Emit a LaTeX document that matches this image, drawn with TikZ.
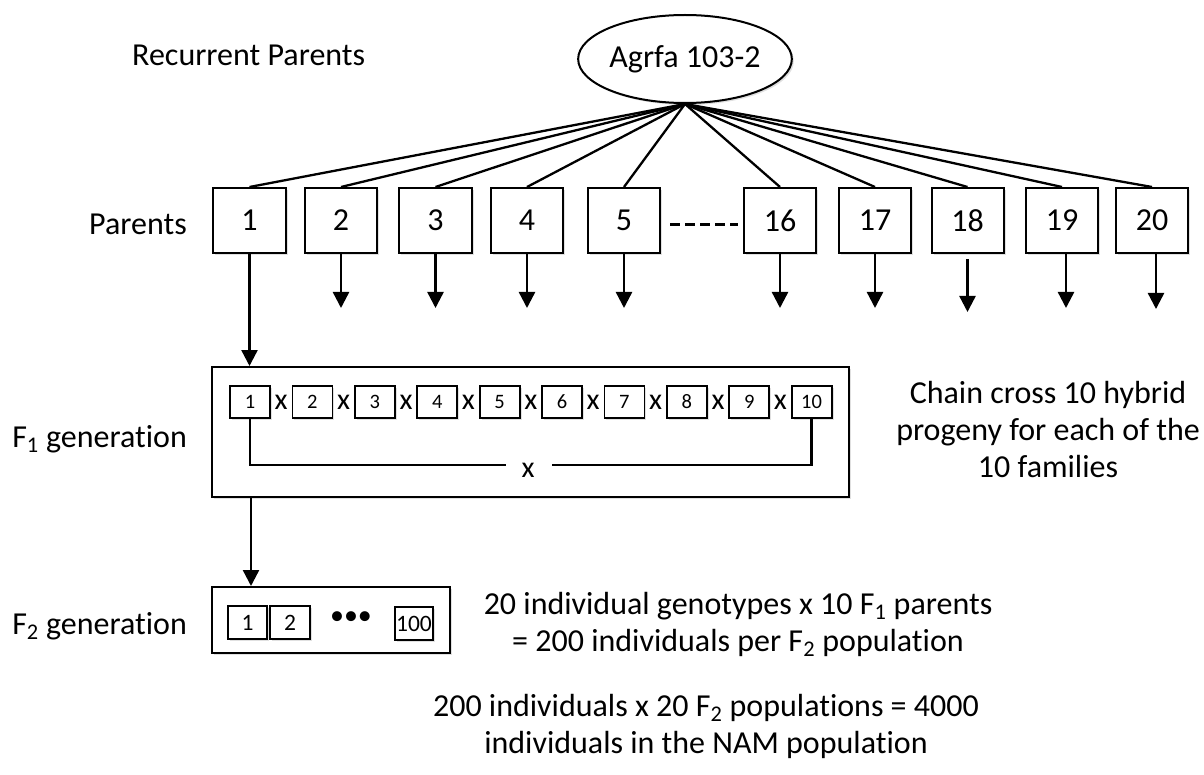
\documentclass[tikz,border=0pt]{standalone}
\usepackage{fontspec}
\setmainfont{Carlito}[Ligatures=NoCommon]
\usetikzlibrary{arrows.meta,shapes.geometric,shadows}
\begin{document}
\begin{tikzpicture}[x=1pt,y=-1pt,
  big/.style={font=\fontsize{32}{37}\selectfont},
  shad/.style={drop shadow={shadow xshift=2pt,shadow yshift=-2pt,opacity=0.12,fill=black}},
  pbox/.style={draw,line width=2pt,fill=white,minimum height=65pt,inner sep=0pt,big,shad},
  fbox/.style={draw,line width=1.8pt,fill=white,minimum width=40pt,minimum height=32pt,inner sep=0pt,font=\fontsize{20.5}{24}\selectfont,shad},
  sbox/.style={draw,line width=1.8pt,fill=white,minimum width=39pt,minimum height=33pt,inner sep=0pt,font=\fontsize{23.5}{27}\selectfont,shad},
  frame/.style={draw,line width=2pt,fill=white,inner sep=0pt,shad},
  lbl/.style={big,inner sep=0pt},
  xlbl/.style={font=\fontsize{30}{36}\selectfont,inner sep=0pt},
  link/.style={line width=2.3pt},
  arr/.style={line width=2.4pt,-{Triangle[width=16pt,length=16pt]}},
  dashline/.style={line width=2.5pt,dash pattern=on 10pt off 5pt}
]
\useasboundingbox (0,0) rectangle (1204,775);

% labels on the left
\node[lbl,anchor=base west] (trp) at (132,66) {Recurrent Parents};
\node[lbl,anchor=base east] (tpa) at (187,235) {Parents};
\node[lbl,anchor=base east] (tf1) at (187,447) {F\textsubscript{1} generation};
\node[lbl,anchor=base east] (tf2) at (187,634) {F\textsubscript{2} generation};

% recurrent parent
\node[draw,line width=2pt,ellipse,fill=white,minimum width=198pt,minimum height=88pt,inner sep=0pt,big,shad] (rp) at (685,59) {Agrfa 103-2};

% parents
\node[pbox,minimum width=73pt] (p1) at (249.5,220.5) {1};
\node[pbox,minimum width=72pt] (p2) at (341,220.5) {2};
\node[pbox,minimum width=73pt] (p3) at (435.5,220.5) {3};
\node[pbox,minimum width=72pt] (p4) at (527,220.5) {4};
\node[pbox,minimum width=72pt] (p5) at (624,220.5) {5};
\node[pbox,minimum width=72pt] (p16) at (780,220.5) {16};
\node[pbox,minimum width=72pt] (p17) at (875,220.5) {17};
\node[pbox,minimum width=72pt] (p18) at (967.5,220.5) {18};
\node[pbox,minimum width=72pt] (p19) at (1062,220.5) {19};
\node[pbox,minimum width=72pt] (p20) at (1152,220.5) {20};

\foreach \p in {p1,p2,p3,p4,p5,p16,p17,p18,p19,p20}
  \draw[link] (rp.south) -- (\p.north);

\draw[dashline] ([shift={(9,4)}]p5.east) -- ([shift={(-5,4)}]p16.west);

% arrows below parents
\foreach \p in {p2,p3,p4,p5,p16,p17}
  \draw[arr] (\p.south) -- ++(0,54);
\draw[arr] ([yshift=-5pt]p18.south) -- ++(0,53);
\draw[arr] ([xshift=4pt]p19.south) -- ++(0,54);
\draw[arr] ([xshift=4pt]p20.south) -- ++(0,55);

% F1 generation
\node[frame,minimum width=637pt,minimum height=130pt] (f1) at (530.5,432) {};
\draw[arr] (p1.south) -- (p1.south |- f1.north);
\foreach \i in {1,...,10}
  \node[fbox] (fb\i) at ({250+62.4*(\i-1)},402) {\i};
\foreach \i [evaluate=\i as \j using int(\i+1)] in {1,...,9}
  \path (fb\i) -- node[xlbl] (fx\i) {x} (fb\j);
\node[xlbl] (bx) at (528,470) {x};
\coordinate (gL) at (506,465);
\coordinate (gR) at (552,465);
\draw[link] (fb1.south) |- (gL);
\draw[link] (gR) -| (fb10.south);

% F2 generation
\node[frame,minimum width=238pt,minimum height=66pt] (f2) at (331,620) {};
\draw[arr] (f1.south -| 251,0) -- (f2.north -| 251,0);
\node[sbox] (s1) at (247.5,622.5) {1};
\node[sbox,minimum width=40pt] (s2) at (290,622.5) {2};
\node[sbox,minimum width=38pt] (s100) at (414,623.5) {100};
\node[font=\fontsize{28}{30}\selectfont,inner sep=0pt] (dots) at (351,618) {•••};

% explanatory texts
\node[lbl,anchor=base] (c1) at (1048,403) {Chain cross 10 hybrid};
\node[lbl,anchor=base] (c2) at (1048,440) {progeny for each of the};
\node[lbl,anchor=base] (c3) at (1048,477) {10 families};

\node[lbl,anchor=base] (m1) at (738,614) {20 individual genotypes x 10 F\textsubscript{1} parents};
\node[lbl,anchor=base] (m2) at (738,651) {= 200 individuals per F\textsubscript{2} population};

\node[lbl,anchor=base] (b1) at (706,716) {200 individuals x 20 F\textsubscript{2} populations = 4000};
\node[lbl,anchor=base] (b2) at (706,753) {individuals in the NAM population};
\end{tikzpicture}
\end{document}
